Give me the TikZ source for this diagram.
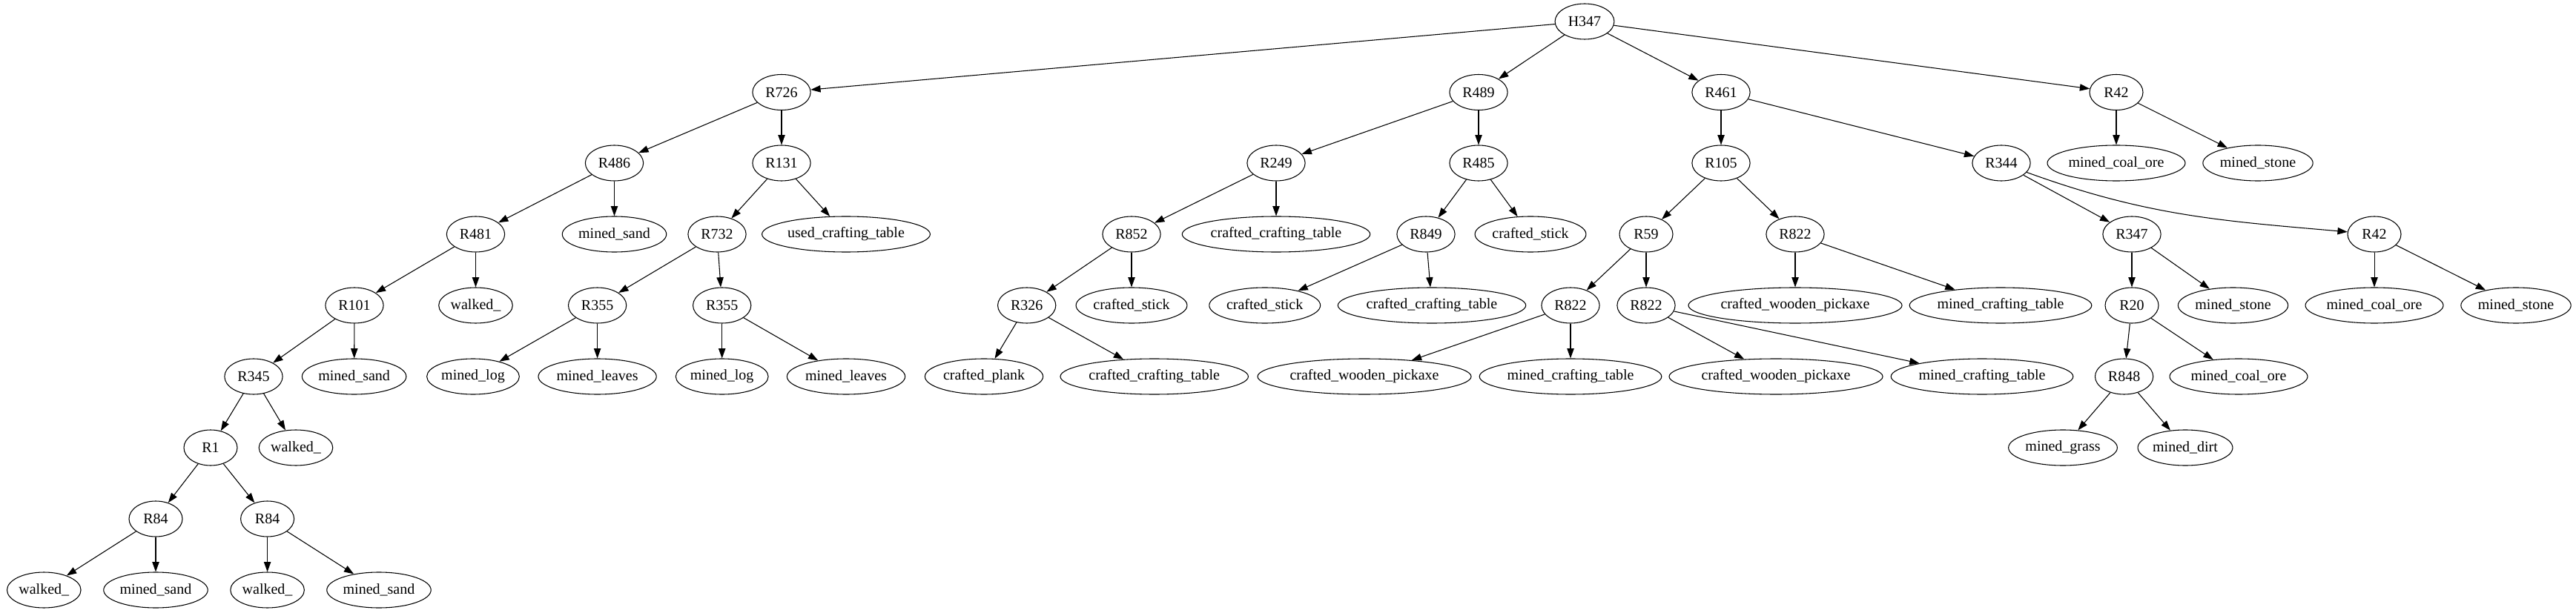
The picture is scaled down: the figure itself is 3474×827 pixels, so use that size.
\documentclass[tikz,border=0pt]{standalone}
\usepackage{fontspec}
\setmainfont{Liberation Serif}
\usetikzlibrary{arrows.meta,shapes.geometric}

\begin{document}
\begin{tikzpicture}[
  x=0.75pt, y=-0.75pt,
  rnode/.style={draw, ellipse, line width=0.8pt, font=\fontsize{15}{18}\selectfont, inner xsep=4.5pt, inner ysep=2pt, minimum width=54pt, minimum height=36pt},
  leaf/.style={draw, ellipse, line width=0.8pt, font=\fontsize{15}{18}\selectfont, inner xsep=1pt, inner ysep=2pt, minimum width=54pt, minimum height=36pt},
  arr/.style={-{Triangle[length=10pt, width=7pt]}, line width=0.8pt}
]
\useasboundingbox (0,0) rectangle (3474,827);

\node[rnode] (h347) at (2137,29) {H347};

\node[rnode] (r726) at (1054,124.5) {R726};
\node[rnode] (r489) at (1994,124.5) {R489};
\node[rnode] (r461) at (2321,124.5) {R461};
\node[rnode] (r42a) at (2854,124.5) {R42};

\node[rnode] (r486) at (828.5,220) {R486};
\node[rnode] (r131) at (1054,220) {R131};
\node[rnode] (r249) at (1721,220) {R249};
\node[rnode] (r485) at (1994,220) {R485};
\node[rnode] (r105) at (2321,220) {R105};
\node[rnode] (r344) at (2699,220) {R344};
\node[leaf] (coalA) at (2854,220) {mined\_coal\_ore};
\node[leaf] (stoneA) at (3045,220) {mined\_stone};

\node[rnode] (r481) at (641.5,316) {R481};
\node[leaf] (sandA) at (828.5,316) {mined\_sand};
\node[rnode] (r732) at (967,316) {R732};
\node[leaf] (usedtable) at (1141,316) {used\_crafting\_table};
\node[rnode] (r852) at (1526,316) {R852};
\node[leaf] (crafttableA) at (1721,316) {crafted\_crafting\_table};
\node[rnode] (r849) at (1923,316) {R849};
\node[leaf] (stickA) at (2064,316) {crafted\_stick};
\node[rnode] (r59) at (2220,316) {R59};
\node[rnode] (r822a) at (2421,316) {R822};
\node[rnode] (r347) at (2875,316) {R347};
\node[rnode] (r42b) at (3202,316) {R42};

\node[rnode] (r101) at (478,412) {R101};
\node[leaf] (walkA) at (641.5,412) {walked\_};
\node[rnode] (r355a) at (805.6,412) {R355};
\node[rnode] (r355b) at (973.7,412) {R355};
\node[rnode] (r326) at (1384.7,412) {R326};
\node[leaf] (stickB) at (1526,412) {crafted\_stick};
\node[leaf] (stickC) at (1705.7,412) {crafted\_stick};
\node[leaf] (crafttableB) at (1931,412) {crafted\_crafting\_table};
\node[rnode] (r822b) at (2118,412) {R822};
\node[rnode] (r822c) at (2220,412) {R822};
\node[leaf] (pickA) at (2421,412) {crafted\_wooden\_pickaxe};
\node[leaf] (minetableA) at (2698,412) {mined\_crafting\_table};
\node[rnode] (r20) at (2875,412) {R20};
\node[leaf] (stoneB) at (3011.5,412) {mined\_stone};
\node[leaf] (coalB) at (3202,412) {mined\_coal\_ore};
\node[leaf] (stoneC) at (3393,412) {mined\_stone};

\node[rnode] (r345) at (342,508) {R345};
\node[leaf] (sandB) at (477.6,508) {mined\_sand};
\node[leaf] (logA) at (638,508) {mined\_log};
\node[leaf] (leavesA) at (805.6,508) {mined\_leaves};
\node[leaf] (logB) at (973.7,508) {mined\_log};
\node[leaf] (leavesB) at (1141,508) {mined\_leaves};
\node[leaf] (plank) at (1327,508) {crafted\_plank};
\node[leaf] (crafttableC) at (1556.7,508) {crafted\_crafting\_table};
\node[leaf] (pickB) at (1840,508) {crafted\_wooden\_pickaxe};
\node[leaf] (minetableB) at (2118,508) {mined\_crafting\_table};
\node[leaf] (pickC) at (2395,508) {crafted\_wooden\_pickaxe};
\node[leaf] (minetableC) at (2673,508) {mined\_crafting\_table};
\node[rnode] (r848) at (2864.6,508) {R848};
\node[leaf] (coalC) at (3019,508) {mined\_coal\_ore};

\node[rnode] (r1) at (284,604) {R1};
\node[leaf] (walkB) at (399,604) {walked\_};
\node[leaf] (grass) at (2782,604) {mined\_grass};
\node[leaf] (dirt) at (2947,604) {mined\_dirt};

\node[rnode] (r84a) at (210,700) {R84};
\node[rnode] (r84b) at (360.6,700) {R84};

\node[leaf] (walkC) at (59.3,796) {walked\_};
\node[leaf] (sandC) at (210,796) {mined\_sand};
\node[leaf] (walkD) at (360.6,796) {walked\_};
\node[leaf] (sandD) at (511,796) {mined\_sand};

% root
\draw[arr] (h347)--(r726);
\draw[arr] (h347)--(r489);
\draw[arr] (h347)--(r461);
\draw[arr] (h347)--(r42a);
% left branch
\draw[arr] (r726)--(r486);
\draw[arr] (r726)--(r131);
\draw[arr] (r486)--(r481);
\draw[arr] (r486)--(sandA);
\draw[arr] (r481)--(r101);
\draw[arr] (r481)--(walkA);
\draw[arr] (r101)--(r345);
\draw[arr] (r101)--(sandB);
\draw[arr] (r345)--(r1);
\draw[arr] (r345)--(walkB);
\draw[arr] (r1)--(r84a);
\draw[arr] (r1)--(r84b);
\draw[arr] (r84a)--(walkC);
\draw[arr] (r84a)--(sandC);
\draw[arr] (r84b)--(walkD);
\draw[arr] (r84b)--(sandD);
\draw[arr] (r131)--(r732);
\draw[arr] (r131)--(usedtable);
\draw[arr] (r732)--(r355a);
\draw[arr] (r732)--(r355b);
\draw[arr] (r355a)--(logA);
\draw[arr] (r355a)--(leavesA);
\draw[arr] (r355b)--(logB);
\draw[arr] (r355b)--(leavesB);
% middle branch
\draw[arr] (r489)--(r249);
\draw[arr] (r489)--(r485);
\draw[arr] (r249)--(r852);
\draw[arr] (r249)--(crafttableA);
\draw[arr] (r852)--(r326);
\draw[arr] (r852)--(stickB);
\draw[arr] (r326)--(plank);
\draw[arr] (r326)--(crafttableC);
\draw[arr] (r485)--(r849);
\draw[arr] (r485)--(stickA);
\draw[arr] (r849)--(stickC);
\draw[arr] (r849)--(crafttableB);
% right branch
\draw[arr] (r461)--(r105);
\draw[arr] (r461)--(r344);
\draw[arr] (r105)--(r59);
\draw[arr] (r105)--(r822a);
\draw[arr] (r59)--(r822b);
\draw[arr] (r59)--(r822c);
\draw[arr] (r822b)--(pickB);
\draw[arr] (r822b)--(minetableB);
\draw[arr] (r822c)--(pickC);
\draw[arr] (r822c)--(minetableC);
\draw[arr] (r822a)--(pickA);
\draw[arr] (r822a)--(minetableA);
\draw[arr] (r344)--(r347);
\draw[arr] (r344) to[out=-20, in=175] (r42b);
\draw[arr] (r347)--(r20);
\draw[arr] (r347)--(stoneB);
\draw[arr] (r20)--(r848);
\draw[arr] (r20)--(coalC);
\draw[arr] (r848)--(grass);
\draw[arr] (r848)--(dirt);
\draw[arr] (r42a)--(coalA);
\draw[arr] (r42a)--(stoneA);
\draw[arr] (r42b)--(coalB);
\draw[arr] (r42b)--(stoneC);
\end{tikzpicture}
\end{document}
